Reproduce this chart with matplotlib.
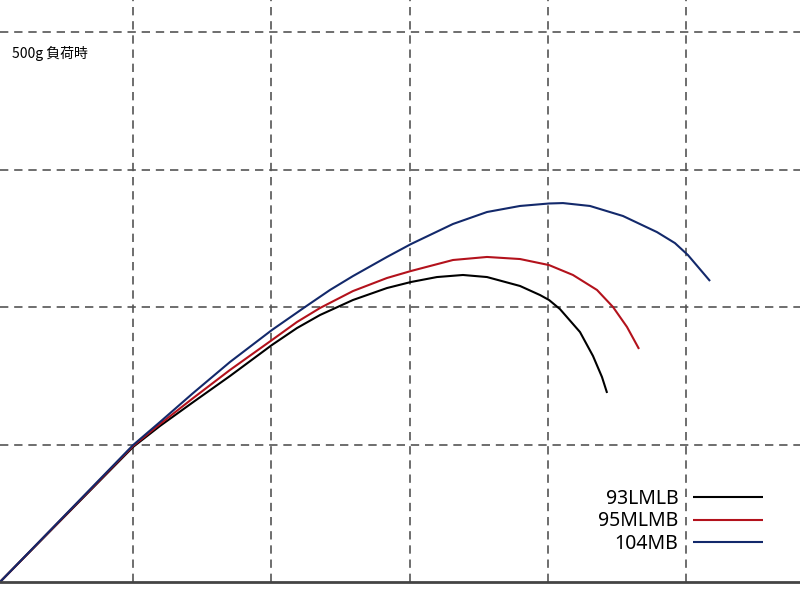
import numpy as np
import matplotlib
matplotlib.use('Agg')
import matplotlib.pyplot as plt

# Curves (x, y in grid units)
names = ['93LMLB', '95MLMB', '104MB']
colors = ['#000000', '#b3121c', '#13296b']

x_93 = [0.036, 0.999, 1.194, 1.425, 1.700, 2.004, 2.185, 2.352, 2.590, 2.836, 3.010,
        3.198, 3.386, 3.560, 3.799, 3.944, 4.009, 4.088, 4.233, 4.327, 4.392, 4.429]
y_93 = [0.0, 0.982, 1.135, 1.302, 1.498, 1.724, 1.847, 1.942, 2.051, 2.138, 2.182,
        2.218, 2.233, 2.218, 2.153, 2.087, 2.051, 1.985, 1.818, 1.644, 1.491, 1.375]

x_95 = [0.036, 0.999, 1.194, 1.425, 1.700, 2.004, 2.185, 2.352, 2.590, 2.836, 3.010,
        3.314, 3.560, 3.799, 4.009, 4.182, 4.356, 4.472, 4.573, 4.660]
y_95 = [0.0, 0.989, 1.149, 1.331, 1.542, 1.760, 1.891, 1.993, 2.116, 2.211, 2.262,
        2.342, 2.364, 2.349, 2.305, 2.233, 2.124, 2.0, 1.855, 1.695]

x_104 = [0.036, 0.999, 1.194, 1.425, 1.700, 2.004, 2.243, 2.424, 2.590, 2.836, 3.010,
         3.314, 3.560, 3.799, 4.009, 4.110, 4.305, 4.544, 4.790, 4.920, 5.014, 5.174]
y_104 = [0.0, 0.996, 1.164, 1.367, 1.600, 1.833, 2.0, 2.124, 2.225, 2.364, 2.458,
         2.604, 2.691, 2.735, 2.753, 2.756, 2.735, 2.662, 2.545, 2.465, 2.378, 2.189]

series_x = [x_93, x_95, x_104]
series_y = [y_93, y_95, y_104]

fig = plt.figure(figsize=(8, 6), dpi=100)
ax = fig.add_axes([0, 0.03, 1, 0.97])

for xs, ys, c, n in zip(series_x, series_y, colors, names):
    ax.plot(xs, ys, color=c, lw=1.5, label=n, solid_capstyle='butt', solid_joinstyle='round')

ax.set_xlim(0.036, 5.825)
ax.set_ylim(0, 4.233)
ax.set_xticks([1, 2, 3, 4, 5])
ax.set_yticks([1, 2, 3, 4])
ax.grid(True, color='#555555', lw=1.2, linestyle=(0, (5, 3.5)))
ax.tick_params(length=0, labelbottom=False, labelleft=False)
for side in ['top', 'right', 'left']:
    ax.spines[side].set_visible(False)
ax.spines['bottom'].set_color('#444444')
ax.spines['bottom'].set_linewidth(2)

ax.text(0.015, 3.847, '500g 負荷時', transform=ax.get_yaxis_transform(),
        fontsize=10, va='center', ha='left',
        family=['Noto Sans CJK JP', 'DejaVu Sans'])

ax.legend(loc='lower right', bbox_to_anchor=(0.966, 0.032), frameon=False,
          markerfirst=False, handlelength=3.6, handletextpad=0.75,
          labelspacing=0.12, borderpad=0,
          prop={'family': 'Noto Sans', 'size': 14})

fig.savefig('out.png', dpi=100, facecolor='white')
